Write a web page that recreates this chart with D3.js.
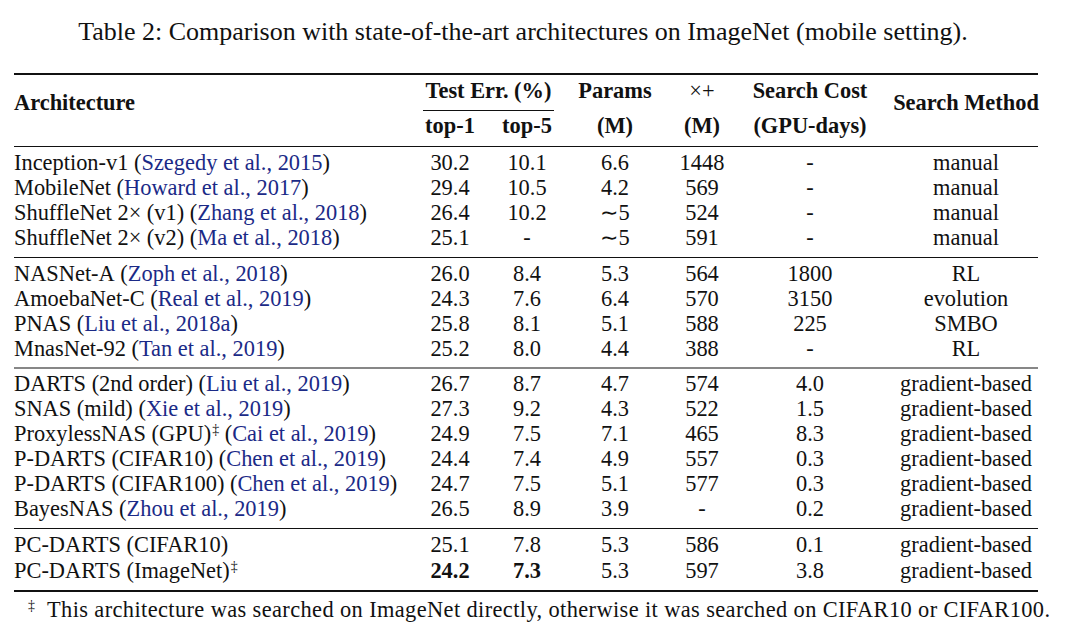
<!DOCTYPE html>
<html>
<head>
<meta charset="utf-8">
<script src="https://cdn.jsdelivr.net/npm/d3@7"></script>
<style>
  html, body { margin: 0; padding: 0; background: #fff; }
  svg { display: block; }
  svg text { font-family: "Liberation Serif", serif; }
</style>
</head>
<body>
<svg id="chart" width="1069" height="633"></svg>
<script>
// ---------- data ----------
const title = "Table 2: Comparison with state-of-the-art architectures on ImageNet (mobile setting).";
const archNames = [
  "Inception-v1", "MobileNet", "ShuffleNet 2\u00d7 (v1)", "ShuffleNet 2\u00d7 (v2)",
  "NASNet-A", "AmoebaNet-C", "PNAS", "MnasNet-92",
  "DARTS (2nd order)", "SNAS (mild)", "ProxylessNAS (GPU)", "P-DARTS (CIFAR10)", "P-DARTS (CIFAR100)", "BayesNAS",
  "PC-DARTS (CIFAR10)", "PC-DARTS (ImageNet)"
];
const archDagger = [false, false, false, false, false, false, false, false, false, false, true, false, false, false, false, true];
const citations = [
  "Szegedy et al., 2015", "Howard et al., 2017", "Zhang et al., 2018", "Ma et al., 2018",
  "Zoph et al., 2018", "Real et al., 2019", "Liu et al., 2018a", "Tan et al., 2019",
  "Liu et al., 2019", "Xie et al., 2019", "Cai et al., 2019", "Chen et al., 2019", "Chen et al., 2019", "Zhou et al., 2019",
  null, null
];
const groups = [0, 0, 0, 0, 1, 1, 1, 1, 2, 2, 2, 2, 2, 2, 3, 3];
const top1 = ["30.2", "29.4", "26.4", "25.1", "26.0", "24.3", "25.8", "25.2", "26.7", "27.3", "24.9", "24.4", "24.7", "26.5", "25.1", "24.2"];
const top5 = ["10.1", "10.5", "10.2", "-", "8.4", "7.6", "8.1", "8.0", "8.7", "9.2", "7.5", "7.4", "7.5", "8.9", "7.8", "7.3"];
const params = ["6.6", "4.2", "\u223c5", "\u223c5", "5.3", "6.4", "5.1", "4.4", "4.7", "4.3", "7.1", "4.9", "5.1", "3.9", "5.3", "5.3"];
const multAdds = ["1448", "569", "524", "591", "564", "570", "588", "388", "574", "522", "465", "557", "577", "-", "586", "597"];
const searchCost = ["-", "-", "-", "-", "1800", "3150", "225", "-", "4.0", "1.5", "8.3", "0.3", "0.3", "0.2", "0.1", "3.8"];
const searchMethod = ["manual", "manual", "manual", "manual", "RL", "evolution", "SMBO", "RL",
  "gradient-based", "gradient-based", "gradient-based", "gradient-based", "gradient-based", "gradient-based",
  "gradient-based", "gradient-based"];
const boldRow = 15; // best top-1 / top-5
const columnKeys = ["arch", "top1", "top5", "params", "madds", "cost", "method"];
const headerTop = ["Architecture", "Test Err. (%)", "Params", "\u00d7+", "Search Cost", "Search Method"];
const headerBottom = ["top-1", "top-5", "(M)", "(M)", "(GPU-days)"];
const footnote = "This architecture was searched on ImageNet directly, otherwise it was searched on CIFAR10 or CIFAR100.";

// ---------- layout ----------
const svg = d3.select("#chart");
const citeColor = "#1b2a87";
const textColor = "#111";
const left = 14, right = 1038;

// fit font sizes to the reference's measured text widths
function fitSize(str, target, weight) {
  const t = svg.append("text").style("font-size", "20px").style("font-weight", weight || "normal").text(str);
  const w = t.node().getComputedTextLength();
  t.remove();
  return 20 * target / w;
}
const bodySize = fitSize(archNames[0] + " (" + citations[0] + ")", 316);
const titleSize = fitSize(title, 890);
const supSize = bodySize * 0.62;

const x = d3.scaleOrdinal()
  .domain(columnKeys)
  .range([left, 450, 527, 615, 702, 810, 966]);

// row baselines: row index scale + extra gap per group
const rowIndex = d3.range(archNames.length);
const yRow = d3.scaleLinear().domain([0, 1]).range([170, 195]);
const groupGap = 10.5;
const y = i => yRow(i) + groups[i] * groupGap + (i === boldRow ? 1.5 : 0);

// title
svg.append("text")
  .attr("x", 523).attr("y", 40)
  .attr("text-anchor", "middle")
  .attr("fill", textColor)
  .style("font-size", titleSize + "px")
  .text(title);

// rules
const rule = (y0, x0, x1, w) => svg.append("line")
  .attr("x1", x0).attr("x2", x1).attr("y1", y0).attr("y2", y0)
  .attr("stroke", "#111").attr("stroke-width", w);
rule(74, left, right, 1.8);
rule(110.5, 423, 554, 1.0);
rule(146.5, left, right, 1.1);
const groupEnds = d3.range(3).map(g => {
  const last = d3.max(rowIndex.filter(i => groups[i] === g));
  return y(last) + 12.5;
});
groupEnds.forEach(gy => rule(gy, left, right, 1.1));
rule(Math.round(y(archNames.length - 1) + 13), left, right, 1.8);

// header
const hdr = svg.append("g").attr("fill", textColor).style("font-weight", "bold").style("font-size", bodySize + "px");
hdr.append("text").attr("x", left).attr("y", 109.5).text(headerTop[0]);
hdr.append("text").attr("x", (423 + 554) / 2).attr("y", 98).attr("text-anchor", "middle").text(headerTop[1]);
hdr.append("text").attr("x", x("params")).attr("y", 98).attr("text-anchor", "middle").text(headerTop[2]);
hdr.append("text").attr("x", x("madds")).attr("y", 98).attr("text-anchor", "middle").style("font-weight", "normal").text(headerTop[3]);
hdr.append("text").attr("x", x("cost")).attr("y", 98).attr("text-anchor", "middle").text(headerTop[4]);
hdr.append("text").attr("x", x("method")).attr("y", 109.5).attr("text-anchor", "middle").text(headerTop[5]);
["top1", "top5", "params", "madds", "cost"].forEach((k, j) => {
  hdr.append("text").attr("x", x(k)).attr("y", 133).attr("text-anchor", "middle").text(headerBottom[j]);
});

// body rows
const rows = svg.append("g").attr("fill", textColor).style("font-size", bodySize + "px")
  .selectAll("g.row").data(rowIndex).join("g").attr("class", "row");

rows.each(function(i) {
  const g = d3.select(this);
  const t = g.append("text").attr("x", x("arch")).attr("y", y(i));
  t.append("tspan").text(archNames[i]);
  if (archDagger[i]) {
    t.append("tspan").attr("dx", 1).attr("y", y(i) - 7).style("font-size", supSize + "px").text("\u2021");
  }
  if (citations[i]) {
    t.append("tspan").attr("y", y(i)).text(" (");
    t.append("tspan").attr("fill", citeColor).text(citations[i]);
    t.append("tspan").text(")");
  }
  const cells = [["top1", top1[i]], ["top5", top5[i]], ["params", params[i]], ["madds", multAdds[i]], ["cost", searchCost[i]], ["method", searchMethod[i]]];
  cells.forEach(([k, v]) => {
    g.append("text").attr("x", x(k)).attr("y", y(i)).attr("text-anchor", "middle")
      .style("font-weight", (i === boldRow && (k === "top1" || k === "top5")) ? "bold" : "normal")
      .text(v);
  });
});

// footnote (justified line in the reference: stretch word spacing to its width)
const fn = svg.append("g").attr("fill", textColor).style("font-size", bodySize + "px");
fn.append("text").attr("x", 28).attr("y", 610).style("font-size", supSize + "px").text("\u2021");
fn.append("text").attr("x", 47).attr("y", 617)
  .attr("textLength", 1003).attr("lengthAdjust", "spacing")
  .text(footnote);
</script>
</body>
</html>
